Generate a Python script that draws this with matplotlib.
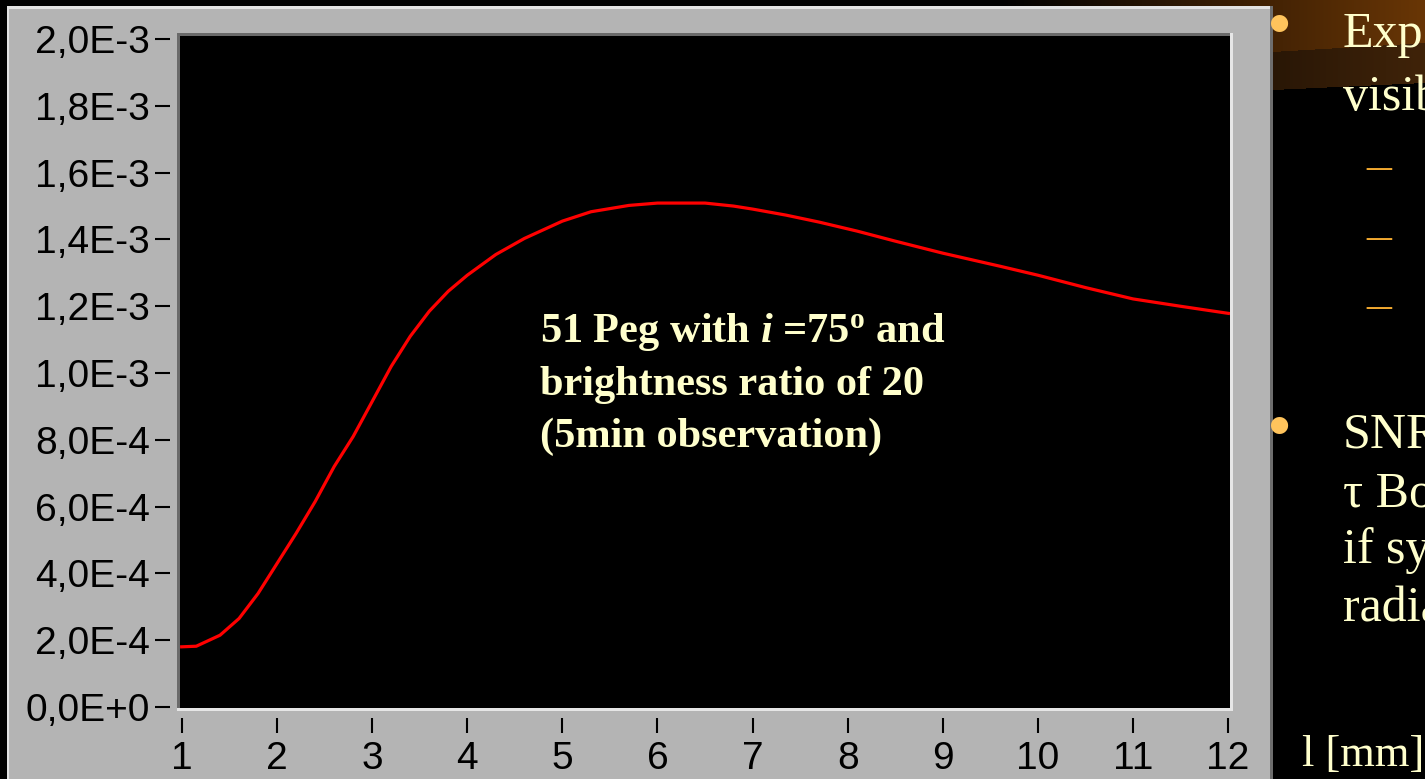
import numpy as np
import matplotlib
matplotlib.use("Agg")
import matplotlib.pyplot as plt
from matplotlib.patches import Rectangle

# ---------------- data ----------------
wavelength_mm = [0.98, 1.15, 1.4, 1.6, 1.8, 2.0, 2.2, 2.4, 2.6, 2.8, 3.0, 3.2, 3.4,
                 3.6, 3.8, 4.0, 4.3, 4.6, 5.0, 5.3, 5.7, 6.0, 6.5, 6.8, 7.0, 7.35,
                 7.7, 8.1, 8.5, 9.0, 9.6, 10.0, 10.5, 11.0, 11.5, 12.02]
visibility = [1.80e-4, 1.82e-4, 2.15e-4, 2.65e-4, 3.40e-4, 4.30e-4, 5.20e-4,
              6.15e-4, 7.20e-4, 8.10e-4, 9.15e-4, 1.020e-3, 1.110e-3, 1.185e-3,
              1.245e-3, 1.293e-3, 1.355e-3, 1.403e-3, 1.455e-3, 1.483e-3,
              1.502e-3, 1.509e-3, 1.509e-3, 1.500e-3, 1.491e-3, 1.473e-3,
              1.452e-3, 1.425e-3, 1.395e-3, 1.359e-3, 1.320e-3, 1.293e-3,
              1.256e-3, 1.222e-3, 1.200e-3, 1.178e-3]

xticks = [1, 2, 3, 4, 5, 6, 7, 8, 9, 10, 11, 12]
xtick_labels = ["1", "2", "3", "4", "5", "6", "7", "8", "9", "10", "11", "12"]
yticks = [0.0, 2e-4, 4e-4, 6e-4, 8e-4, 1.0e-3, 1.2e-3, 1.4e-3, 1.6e-3, 1.8e-3, 2.0e-3]
ytick_labels = ["0,0E+0", "2,0E-4", "4,0E-4", "6,0E-4", "8,0E-4", "1,0E-3",
                "1,2E-3", "1,4E-3", "1,6E-3", "1,8E-3", "2,0E-3"]

annotation_lines = ["51 Peg with $\\mathit{i}$ =75$^{\\mathbf{o}}$ and",
                    "brightness ratio of 20",
                    "(5min observation)"]
slide_lines = ["Exp", "visib", "SNR", "\u03c4 Bo", "if sy", "radia"]
xlabel_text = "l [mm]"

# ---------------- style ----------------
plt.rcParams['mathtext.fontset'] = 'custom'
plt.rcParams['mathtext.rm'] = 'Liberation Serif:bold'
plt.rcParams['mathtext.bf'] = 'Liberation Serif:bold'
plt.rcParams['mathtext.it'] = 'Liberation Serif:bold:italic'

W, H = 1425, 779
fig = plt.figure(figsize=(W / 100, H / 100), dpi=100, facecolor='black')

# background axes in pixel coordinates
bg = fig.add_axes([0, 0, 1, 1])
bg.set_xlim(0, W)
bg.set_ylim(H, 0)
bg.axis('off')

# slide gradient (top right swoosh)
X, Yp = np.meshgrid(np.arange(W) + 0.5, np.arange(H) + 0.5)
img = np.zeros((H, W, 3))
t = np.clip((X - 1000) / 425.0, 0, 1)
yb1 = 52 - (X - 1273) * (9 / 152.0)
yb2 = 90 - (X - 1273) * (7 / 152.0)
upper = Yp < yb1
lower = (Yp >= yb1) & (Yp < yb2)
up_col = np.array([105, 54, 6]) / 255.0
lo_col = np.array([58, 32, 8]) / 255.0
for c in range(3):
    img[..., c] = np.where(upper, t * up_col[c], np.where(lower, t * lo_col[c] * 1.1, 0))
bg.imshow(img, extent=(0, W, H, 0), aspect='auto', interpolation='bilinear', zorder=0)

# grey panel with bevel
bg.add_patch(Rectangle((7, 6), 1266, H, facecolor='#b4b4b4', edgecolor='none', zorder=1))
bg.add_patch(Rectangle((7, 6), 1266, 2.5, facecolor='#e2e2e2', edgecolor='none', zorder=2))
bg.add_patch(Rectangle((7, 6), 2.5, H, facecolor='#e2e2e2', edgecolor='none', zorder=2))
bg.add_patch(Rectangle((1270, 6), 3, H, facecolor='#6e6e6e', edgecolor='none', zorder=2))
# sunken frame around plot area
bg.add_patch(Rectangle((177, 33), 1056, 3, facecolor='#6a6a6a', edgecolor='none', zorder=2))
bg.add_patch(Rectangle((177, 33), 3, 678, facecolor='#6a6a6a', edgecolor='none', zorder=2))
bg.add_patch(Rectangle((177, 708), 1056, 3, facecolor='#e6e6e6', edgecolor='none', zorder=2))
bg.add_patch(Rectangle((1230, 33), 3, 678, facecolor='#e6e6e6', edgecolor='none', zorder=2))

# slide text on the right
cream = '#ffffcc'
slide_y = [47, 110, 447, 506, 563, 621]
for line, yb in zip(slide_lines, slide_y):
    bg.text(1343, yb, line, color=cream, fontsize=36, family='Liberation Serif',
            ha='left', va='baseline', zorder=5)

orange = '#ffc45c'
for yb in [29, 431]:
    bg.text(1280, yb, '\u2022', color=orange, fontsize=52, family='Liberation Serif',
            ha='center', va='center', zorder=5)
for yb in [181, 251, 320]:
    bg.text(1366, yb, '\u2013', color='#f0a830', fontsize=36, family='Liberation Serif',
            ha='left', va='baseline', zorder=5)

bg.text(1302, 766, xlabel_text, color=cream, fontsize=32, family='Liberation Serif',
        ha='left', va='baseline', zorder=5)

# ---------------- main axes ----------------
ax_l, ax_r, ax_t, ax_b = 180, 1230, 36, 708
ax = fig.add_axes([ax_l / W, (H - ax_b) / H, (ax_r - ax_l) / W, (ax_b - ax_t) / H])
ax.set_facecolor('black')
ax.plot(wavelength_mm, visibility, color='#ff0000', lw=2.3, solid_capstyle='butt')
ax.set_xlim(0.979, 12.02)
ax.set_ylim(-3e-6, 2.0093e-3)

for s in ['top', 'right', 'left', 'bottom']:
    ax.spines[s].set_visible(False)
ax.spines['left'].set_position(('outward', 7))
ax.spines['bottom'].set_position(('outward', 7))

ax.set_xticks(xticks)
ax.set_xticklabels(xtick_labels)
ax.set_yticks(yticks)
ax.set_yticklabels(ytick_labels)
ax.tick_params(axis='both', direction='out', length=10.8, width=1.5, color='black',
               labelcolor='black', labelsize=28)
ax.tick_params(axis='x', pad=6)
ax.tick_params(axis='y', pad=4)
for lab in ax.get_xticklabels() + ax.get_yticklabels():
    lab.set_fontfamily('Liberation Sans')

# annotation inside plot (drawn on the main axes, placed in pixel coordinates)
for line, yb in zip(annotation_lines, [342, 395, 447]):
    ax.text(540, yb, line, color=cream, fontsize=30.5, fontweight='bold',
            family='Liberation Serif', ha='left', va='baseline', zorder=5,
            transform=bg.transData)

fig.savefig('out.png', dpi=100, facecolor='black')
